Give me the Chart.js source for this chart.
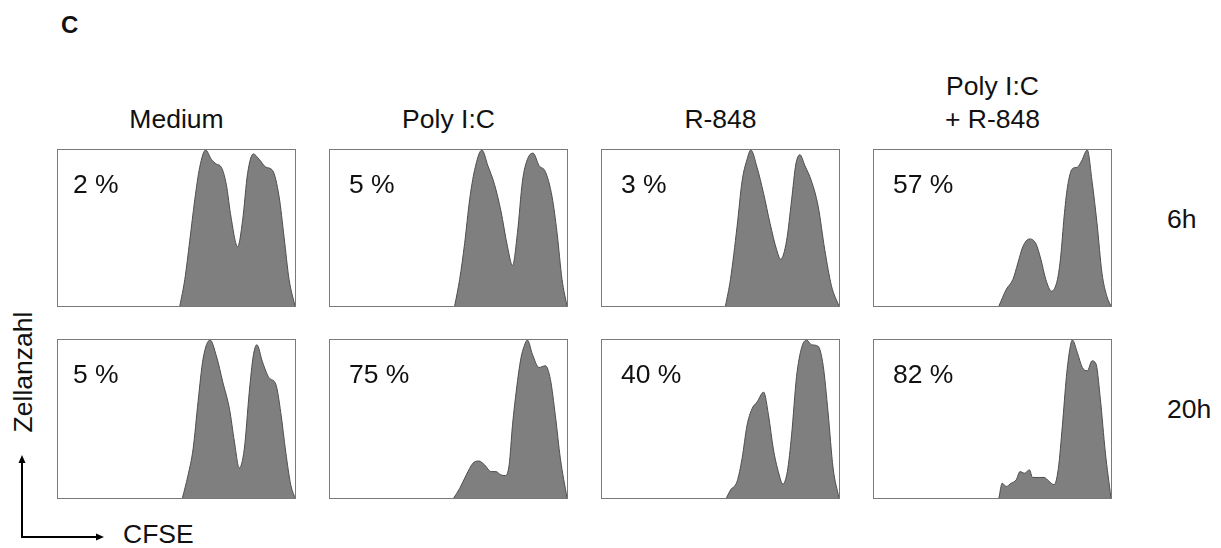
<!DOCTYPE html>
<html lang="de">
<head>
<meta charset="UTF-8">
<title>CFSE Proliferation</title>
<script src="https://cdn.jsdelivr.net/npm/chart.js@4.4.1/dist/chart.umd.min.js"></script>
<style>
    body { margin: 0; background: #fff; font-family: 'Liberation Sans', Arial, sans-serif; color: #111; }
    #figure { position: relative; width: 1221px; height: 548px; overflow: hidden; }
    .label { position: absolute; font-size: 26.5px; line-height: 26px; white-space: nowrap; }
    .center { text-align: center; }
    .panel { position: absolute; border: 1px solid #7a7a7a; box-sizing: border-box; background: #fff; }
    .panel canvas { display: block; }
    .pct { z-index: 2; }
    #letter { position: absolute; left: 61px; top: 13px; font-size: 24px; line-height: 23px; font-weight: bold; }
    #zellanzahl { left: -57.5px; top: 359px; width: 160px; text-align: center; transform: rotate(-90deg); }
    svg { position: absolute; left: 0; top: 0; }
</style>
</head>
<body>
<div id="figure">
    <div id="letter">C</div>
    <div class="label" id="zellanzahl">Zellanzahl</div>
    <div class="label" style="left:123px; top:521px;">CFSE</div>
    <svg width="1221" height="548">
        <line x1="22" y1="537" x2="22" y2="462" stroke="#000" stroke-width="2"/>
        <polygon points="22,455 18.5,463 25.5,463" fill="#000"/>
        <line x1="21" y1="537" x2="97" y2="537" stroke="#000" stroke-width="2"/>
        <polygon points="104,537 96,533.5 96,540.5" fill="#000"/>
    </svg>
</div>
<script>
// Bedingungen (Spalten) und Zeitpunkte (Zeilen)
const conditions = [['Medium'], ['Poly I:C'], ['R-848'], ['Poly I:C', '+ R-848']];
const timepoints = ['6h', '20h'];

// Anteil geteilter Zellen (%)
const divided6h = [2, 5, 3, 57];
const divided20h = [5, 75, 40, 82];

// Histogramme: [CFSE (0-100), Zellanzahl (% vom Maximum)]
const medium6h = [[51.4, 0], [53.5, 17], [55.6, 42], [57.7, 68], [59.8, 89], [62.3, 100], [64.7, 94], [66.8, 91], [68.9, 89], [71, 78], [73, 57], [75.8, 38], [77.9, 55], [80, 85], [82.4, 97.5], [84.9, 94], [87.7, 89], [90.5, 87], [93.3, 70], [95.4, 44], [97.5, 17], [100, 0]];
const polyIC6h = [[52.6, 0], [54.7, 17], [56.8, 40], [58.9, 68], [61, 87], [64.1, 100], [66.6, 90], [69.4, 78], [72.1, 61], [74.9, 38], [77, 26], [79.1, 47], [81.2, 80], [83.3, 94], [85.7, 98], [88.2, 90], [90.9, 86], [93.7, 70], [95.8, 47], [97.9, 17], [100, 0]];
const r848_6h = [[52.1, 0], [54.2, 17], [57, 51], [59.1, 80], [61.2, 94], [62.8, 100], [65.4, 89], [68.2, 72], [70.9, 53], [73.7, 36], [75.4, 30], [77.9, 42], [80, 68], [81.8, 91], [83.5, 97], [85.6, 90], [88.4, 80], [91.2, 64], [94, 36], [96.8, 13], [100, 0]];
const combo6h = [[52.7, 0], [55.8, 10.6], [58.6, 17], [60.7, 27.5], [62.8, 38], [65.6, 43], [68.3, 40], [70.4, 30], [72.5, 17], [74.9, 9.5], [77.4, 17], [78.8, 32], [80.2, 57], [81.6, 76], [83.7, 88], [85.8, 89], [87.6, 93], [90, 100], [92, 80], [94.1, 53], [96.2, 21], [98.3, 6], [100, 0]];
const medium20h = [[52.5, 0], [54.9, 14.6], [57, 31], [59.1, 61], [61.2, 88], [64.2, 100], [66.8, 90], [69.6, 73], [72.4, 56], [74.4, 36], [76.5, 19], [78.6, 31], [80.7, 67], [82.4, 90], [83.9, 97], [86.3, 86], [89.1, 76], [91.9, 72], [94, 54], [96.1, 29], [98.2, 8.4], [100, 0]];
const polyIC20h = [[52.2, 0], [54.7, 6], [57.5, 14.6], [60.3, 22], [62.8, 23.4], [65.2, 21], [68, 16.7], [70, 16.7], [72.1, 14.6], [74, 14.2], [75.6, 21], [77, 46], [78.7, 69], [80.5, 88], [81.9, 96], [83.3, 100], [85.4, 91], [88.2, 82.6], [90.9, 83.7], [93, 75], [95.1, 52], [97.2, 25], [100, 0]];
const r848_20h = [[52.5, 0], [54.2, 5], [57, 10.5], [59.1, 25], [61.2, 46], [63.3, 56.5], [65.4, 60.7], [68.2, 67], [70.3, 52], [72.3, 31], [74.4, 16.7], [76.3, 8.8], [78.2, 16.7], [80, 40], [82.1, 77], [84.2, 95], [86.3, 100], [88.4, 97], [91.2, 96], [93.3, 84], [95.4, 54], [97.5, 19], [100, 0]];
const combo20h = [[52.7, 0], [54.1, 9.4], [55.8, 7.3], [57.9, 9.4], [60, 11.5], [61.6, 16.7], [63.5, 15.7], [65.6, 17.8], [66.9, 13], [69.7, 13], [71.8, 13], [73.9, 10.5], [76, 8.4], [77.8, 18.8], [79.5, 46], [81.2, 77], [82.6, 94], [83.7, 100], [85.8, 92], [87.9, 82.6], [90, 80.5], [92, 86.8], [93.7, 84.7], [95.5, 62.8], [97.6, 29], [100, 0]];

const histograms = [
    [medium6h, polyIC6h, r848_6h, combo6h],
    [medium20h, polyIC20h, r848_20h, combo20h]
];
const dividedPercent = [divided6h, divided20h];

document.addEventListener('DOMContentLoaded', () => {
    const figure = document.getElementById('figure');
    const panelLeft = 57, panelStep = 272, panelWidth = 239;
    const rowTops = [149, 339];
    const rowHeights = [158, 160];

    // Spaltenüberschriften
    conditions.forEach((lines, col) => {
        lines.forEach((text, i) => {
            const div = document.createElement('div');
            div.className = 'label center';
            div.style.left = (panelLeft + col * panelStep) + 'px';
            div.style.width = panelWidth + 'px';
            div.style.top = (106 - (lines.length - 1 - i) * 33) + 'px';
            div.textContent = text;
            figure.appendChild(div);
        });
    });

    // Zeitpunkte rechts
    timepoints.forEach((text, row) => {
        const div = document.createElement('div');
        div.className = 'label';
        div.style.left = '1167px';
        div.style.top = (row === 0 ? 206 : 396) + 'px';
        div.textContent = text;
        figure.appendChild(div);
    });

    histograms.forEach((rowData, row) => {
        rowData.forEach((points, col) => {
            const left = panelLeft + col * panelStep;
            const top = rowTops[row];
            const height = rowHeights[row];
            const panel = document.createElement('div');
            panel.className = 'panel';
            panel.style.left = left + 'px';
            panel.style.top = top + 'px';
            panel.style.width = panelWidth + 'px';
            panel.style.height = height + 'px';
            const canvas = document.createElement('canvas');
            canvas.width = panelWidth - 2;
            canvas.height = height - 2;
            panel.appendChild(canvas);
            figure.appendChild(panel);

            const pct = document.createElement('div');
            pct.className = 'label pct';
            pct.style.left = (left + (col === 0 ? 16 : 20)) + 'px';
            pct.style.top = (top + 22) + 'px';
            pct.textContent = dividedPercent[row][col] + ' %';
            figure.appendChild(pct);

            renderHistogram(canvas, points);
        });
    });
});

function renderHistogram(canvas, points) {
    const ctx = canvas.getContext('2d');
    new Chart(ctx, {
        type: 'line',
        data: {
            datasets: [{
                data: points.map(p => ({ x: p[0], y: p[1] })),
                fill: 'origin',
                backgroundColor: '#7f7f7f',
                borderColor: '#4d4d4d',
                borderWidth: 1,
                pointRadius: 0,
                cubicInterpolationMode: 'monotone'
            }]
        },
        options: {
            responsive: false,
            animation: false,
            devicePixelRatio: 1,
            layout: { padding: 0 },
            plugins: {
                legend: { display: false },
                tooltip: { enabled: false }
            },
            scales: {
                x: { type: 'linear', min: 0, max: 100, display: false },
                y: { min: 0, max: 100, display: false }
            }
        }
    });
}
</script>
</body>
</html>
